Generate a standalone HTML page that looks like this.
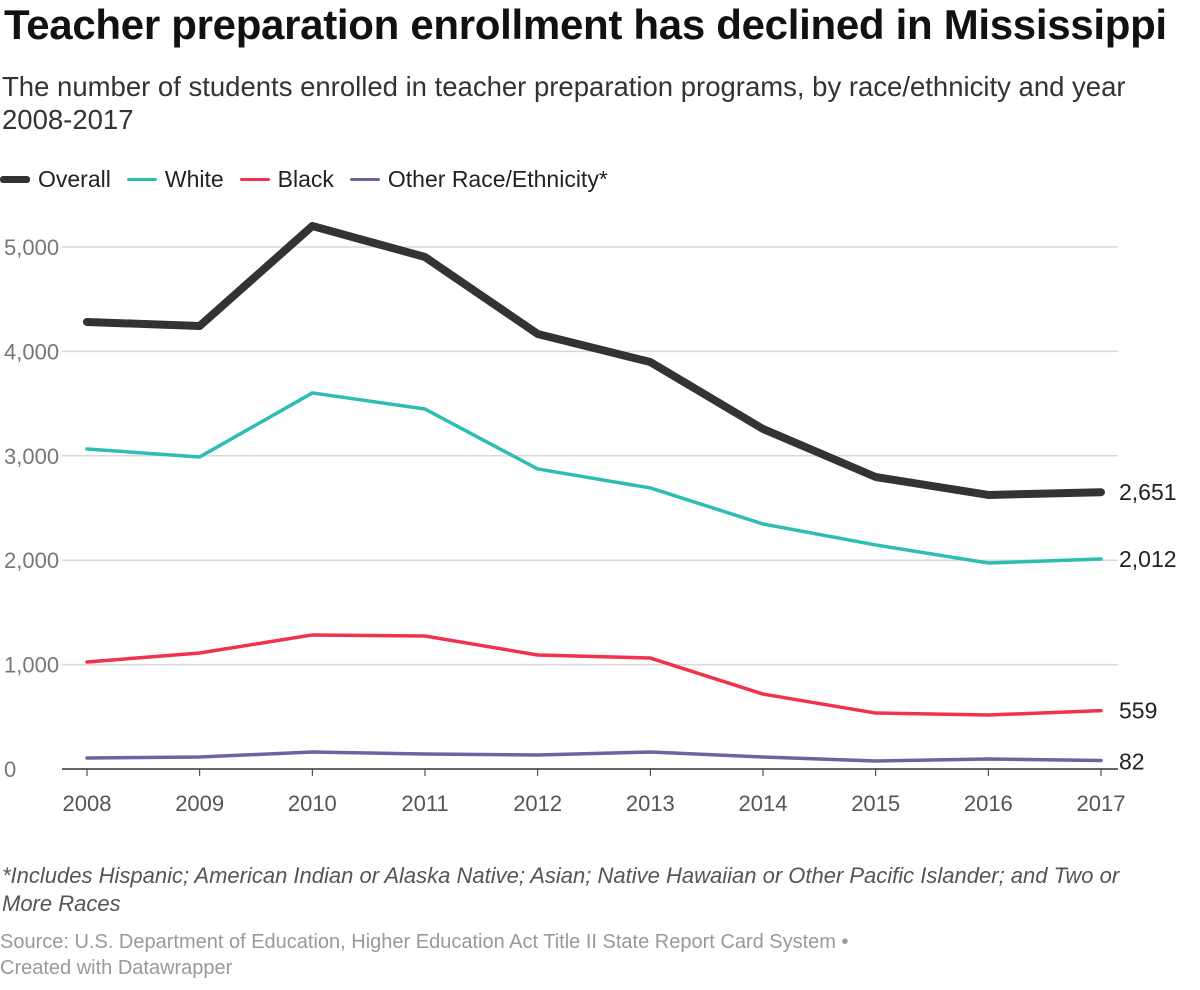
<!DOCTYPE html>
<html><head><meta charset="utf-8"><style>
body{margin:0;background:#fff;font-family:"Liberation Sans",sans-serif;width:1200px;height:990px;overflow:hidden;position:relative}
.t{position:absolute;left:4px;top:1px;font-size:42px;font-weight:bold;color:#111;letter-spacing:-0.3px;white-space:nowrap}
.s{position:absolute;left:2px;top:70px;font-size:27.5px;color:#333;line-height:33px;white-space:nowrap}
.lg{position:absolute;left:0;top:166px;font-size:23px;color:#222;display:flex;gap:16px;align-items:center}
.lg span{display:flex;align-items:center;gap:8px}
.lg i{display:inline-block;width:30px;border-radius:3px}
.n{position:absolute;left:2px;top:862px;font-size:22px;font-style:italic;color:#555;line-height:28px;width:1160px}
.src{position:absolute;left:0;top:929px;font-size:20px;color:#999;line-height:26px}
svg{position:absolute;left:0;top:0}
</style></head><body>
<div class="t">Teacher preparation enrollment has declined in Mississippi</div>
<div class="s">The number of students enrolled in teacher preparation programs, by race/ethnicity and year<br>2008-2017</div>
<div class="lg">
<span><i style="height:7px;background:#333"></i>Overall</span>
<span><i style="height:3px;background:#2ebdb2"></i>White</span>
<span><i style="height:3px;background:#f3314d"></i>Black</span>
<span><i style="height:3px;background:#6d63a0"></i>Other Race/Ethnicity*</span>
</div>
<svg id="c" width="1200" height="990"></svg>
<div class="n">*Includes Hispanic; American Indian or Alaska Native; Asian; Native Hawaiian or Other Pacific Islander; and Two or More Races</div>
<div class="src">Source: U.S. Department of Education, Higher Education Act Title II State Report Card System •<br>Created with Datawrapper</div>
<script>
const years=[2008,2009,2010,2011,2012,2013,2014,2015,2016,2017];
const overall=[4282,4243,5201,4904,4167,3898,3257,2797,2625,2651];
const white=[3065,2989,3602,3448,2874,2692,2347,2146,1973,2012];
const black=[1025,1111,1284,1274,1092,1063,718,536,517,559];
const other=[105,115,163,144,134,163,115,77,96,82];
const yTicks=[0,1000,2000,3000,4000,5000];
const NS="http://www.w3.org/2000/svg";
const svg=document.getElementById('c');
const x=i=>87+i*(1101-87)/(years.length-1);
const y=v=>769-v*(769-247)/5000;
function el(t,a){const e=document.createElementNS(NS,t);for(const k in a)e.setAttribute(k,a[k]);svg.appendChild(e);return e;}
yTicks.forEach(v=>{
 const g=el('line',{x1:62,x2:1118,y1:y(v),y2:y(v),stroke:v?'#d8d8d8':'#333','stroke-width':1.5});
 
 
 const t=el('text',{x:4,y:y(v)+8,'font-size':22,fill:'#777'});
 t.textContent=v.toLocaleString('en-US');
 
 
});
years.forEach((yr,i)=>{
 const tk=el('line',{x1:x(i),x2:x(i),y1:769,y2:776,stroke:'#333','stroke-width':1});
 
 
 const t=el('text',{x:x(i),y:811,'font-size':22,fill:'#555','text-anchor':'middle'});
 t.textContent=yr;
 
 
});
[[other,'#6d63a0',3.5,'other'],[black,'#f3314d',3.5,'black'],[white,'#2ebdb2',3.5,'white'],[overall,'#333',8,'overall']].forEach(([d,c,w,n])=>{
 const p=el('polyline',{points:d.map((v,i)=>x(i)+','+y(v)).join(' '),fill:'none',stroke:c,'stroke-width':w,'stroke-linejoin':'round','stroke-linecap':'round'});
 
 
 const last=d[d.length-1];
 const t=el('text',{x:1119,y:y(last)+(n==='other'?9:8),'font-size':23,fill:'#222'});
 t.textContent=last.toLocaleString('en-US');
 
 
});
</script>
</body></html>
